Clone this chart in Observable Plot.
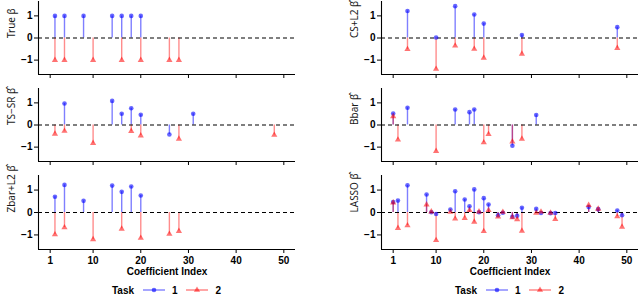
<!DOCTYPE html>
<html><head><meta charset="utf-8">
<script src="https://cdn.jsdelivr.net/npm/d3@7"></script>
<script src="https://cdn.jsdelivr.net/npm/@observablehq/plot@0.6"></script>
<style>
body{margin:0;background:#fff;font-family:"Liberation Sans",Arial,sans-serif;}
#chart{position:relative;width:640px;height:295px;overflow:hidden;background:#fff}
.panel{position:absolute}
</style></head><body><div id="chart"></div>
<script>
// ---- data ----
const taskLabels = ["1", "2"];
const xTicks = [1, 10, 20, 30, 40, 50];
const xTickLabels = ["1", "10", "20", "30", "40", "50"];
const yTicks = [-1, 0, 1];
const yTickLabels = ["\u22121", "0", "1"];
const xTitle = "Coefficient Index";
const legendTitle = "Task";

const trueIdx1 = [2, 4, 8, 14, 16, 18, 20];
const trueVal1 = [1, 1, 1, 1, 1, 1, 1];
const trueIdx2 = [2, 4, 10, 16, 20, 26, 28];
const trueVal2 = [-1, -1, -1, -1, -1, -1, -1];

const tsIdx1 = [4, 14, 16, 18, 20, 26, 31];
const tsVal1 = [0.97, 1.09, 0.51, 0.76, 0.46, -0.43, 0.51];
const tsIdx2 = [2, 4, 10, 18, 20, 28, 48];
const tsVal2 = [-0.40, -0.27, -0.82, -0.28, -0.48, -0.63, -0.45];

const zbIdx1 = [2, 4, 8, 14, 16, 18, 20];
const zbVal1 = [0.70, 1.23, 0.52, 1.20, 0.92, 1.16, 0.76];
const zbIdx2 = [2, 4, 10, 16, 20, 26, 28];
const zbVal2 = [-0.98, -0.67, -1.20, -0.73, -1.14, -0.96, -0.83];

const csIdx1 = [4, 10, 14, 18, 20, 28, 48];
const csVal1 = [1.22, 0.02, 1.44, 1.06, 0.65, 0.13, 0.49];
const csIdx2 = [4, 10, 14, 18, 20, 28, 48];
const csVal2 = [-0.51, -1.40, -0.35, -0.50, -0.90, -0.72, -0.46];

const bbIdx1 = [1, 4, 14, 17, 18, 26, 31];
const bbVal1 = [0.52, 0.78, 0.70, 0.58, 0.70, -0.94, 0.45];
const bbIdx2 = [1, 2, 10, 20, 21, 26, 28];
const bbVal2 = [0.39, -0.67, -1.18, -0.79, -0.42, -0.76, -0.63];

const laIdx1 = [1, 2, 4, 8, 9, 10, 13, 14, 16, 17, 18, 19, 20, 21, 23, 24, 26, 27, 28, 31, 32, 34, 35, 42, 44, 48, 49];
const laVal1 = [0.47, 0.53, 1.21, 0.80, 0.01, -0.07, 0.13, 0.95, 0.58, 0.28, 1.03, 0.01, 0.64, 0.36, -0.12, -0.01, -0.19, -0.15, 0.21, 0.16, -0.02, -0.03, -0.02, 0.24, 0.15, 0.09, -0.12];
const laIdx2 = [1, 2, 4, 8, 9, 10, 13, 14, 16, 17, 18, 19, 20, 21, 23, 24, 26, 27, 28, 31, 32, 34, 35, 42, 44, 48, 49];
const laVal2 = [0.44, -0.70, -0.58, 0.35, 0.04, -1.24, 0.02, -0.28, -0.25, 0.10, -0.42, 0.04, -0.84, 0.10, -0.19, 0.02, -0.22, -0.31, -0.82, -0.02, 0.03, -0.02, -0.30, 0.33, 0.16, -0.18, -0.64];

const leftTitles = ["True \u03b2", "TS\u2212SR \u03b2\u0302", "Zbar+L2 \u03b2\u0302"];
const rightTitles = ["CS+L2 \u03b2\u0302", "Bbar \u03b2\u0302", "LASSO \u03b2\u0302"];

// ---- layout ----
const FONT = "'Liberation Sans', Arial, Helvetica, sans-serif";
const TITLE_FONT = "'Noto Sans', 'DejaVu Sans', sans-serif";
const xDomain = [-1.45, 52.45];
const yDomain = [-1.65, 1.65];
const colLeft = [0, 343];
const rowTop = [0, 87, 174];
const rowPlotH = [73, 73, 74];
const BLUE = "blue", RED = "red";

const zip = (idx, val) => idx.map((i, k) => ({i, v: val[k]}));

const columns = [
  [[trueIdx1, trueVal1, trueIdx2, trueVal2], [tsIdx1, tsVal1, tsIdx2, tsVal2], [zbIdx1, zbVal1, zbIdx2, zbVal2]],
  [[csIdx1, csVal1, csIdx2, csVal2], [bbIdx1, bbVal1, bbIdx2, bbVal2], [laIdx1, laVal1, laIdx2, laVal2]]
];
const titles = [leftTitles, rightTitles];
const chart = document.getElementById("chart");

columns.forEach((col, c) => {
  col.forEach((arrs, r) => {
    const d1 = zip(arrs[0], arrs[1]);
    const d2 = zip(arrs[2], arrs[3]);
    const bottom = r === 2;
    const mb = bottom ? 30 : 13;
    const p = Plot.plot({
      width: 297,
      height: 1 + rowPlotH[r] + mb,
      marginLeft: 38, marginRight: 2, marginTop: 1, marginBottom: mb,
      x: {domain: xDomain},
      y: {domain: yDomain},
      style: {fontFamily: FONT, fontSize: "10px", color: "#000", background: "transparent", overflow: "visible"},
      marks: [
        Plot.ruleX(d1, {x: "i", y1: 0, y2: "v", stroke: BLUE, strokeOpacity: 0.5, strokeWidth: 1.4}),
        Plot.ruleX(d2, {x: "i", y1: 0, y2: "v", stroke: RED, strokeOpacity: 0.45, strokeWidth: 1.4}),
        Plot.ruleY([0], {stroke: "#000", strokeDasharray: "4,3", strokeWidth: 1.2}),
        Plot.dot(d1, {x: "i", y: "v", r: 2.3, symbol: "circle", fill: BLUE, fillOpacity: 0.6, stroke: "none"}),
        Plot.dot(d2, {x: "i", y: "v", r: 2.3, symbol: "triangle", fill: RED, fillOpacity: 0.55, stroke: "none"}),
        Plot.ruleX([xDomain[0]], {stroke: "#000", strokeWidth: 1.1}),
        Plot.ruleY([yDomain[0]], {stroke: "#000", strokeWidth: 1.1}),
        Plot.axisY({ticks: yTicks, tickSize: 4, tickPadding: 2, label: null, fontWeight: "bold", fontSize: 10,
          tickFormat: (d) => yTickLabels[yTicks.indexOf(d)]}),
        Plot.axisX({ticks: xTicks, tickSize: 4, tickPadding: 3, label: null, fontWeight: "bold", fontSize: 10,
          tickFormat: bottom ? (d) => xTickLabels[xTicks.indexOf(d)] : () => ""}),
        Plot.text([titles[c][r]], {frameAnchor: "left", rotate: -90, dx: -27, fontSize: 10, fill: "#1a1a1a", fontFamily: TITLE_FONT}),
        ...(bottom ? [Plot.text([xTitle], {frameAnchor: "bottom", lineAnchor: "middle", dy: 22, fontWeight: "bold", fontSize: 10})] : [])
      ]
    });
    p.classList.add("panel");
    p.style.left = colLeft[c] + "px";
    p.style.top = rowTop[r] + "px";
    chart.appendChild(p);
  });

  // legend
  const svg = d3.create("svg").attr("width", 297).attr("height", 16)
    .attr("class", "panel").style("left", colLeft[c] + "px").style("top", "282px")
    .style("font-family", FONT).style("font-size", "10px");
  const cy = 8;
  svg.append("text").attr("x", 112).attr("y", cy).attr("dy", "0.35em").attr("font-weight", "bold").text(legendTitle);
  const keys = [{x0: 143, x1: 165, color: BLUE, sym: d3.symbolCircle, tx: 172, label: taskLabels[0], op: 0.6},
                {x0: 186, x1: 208, color: RED, sym: d3.symbolTriangle, tx: 215.5, label: taskLabels[1], op: 0.55}];
  keys.forEach(k => {
    svg.append("line").attr("x1", k.x0).attr("x2", k.x1).attr("y1", cy).attr("y2", cy)
      .attr("stroke", k.color).attr("stroke-opacity", 0.5).attr("stroke-width", 1.4);
    svg.append("path").attr("d", d3.symbol(k.sym, Math.PI * 2.3 * 2.3)())
      .attr("transform", `translate(${(k.x0 + k.x1) / 2},${cy})`).attr("fill", k.color).attr("fill-opacity", k.op);
    svg.append("text").attr("x", k.tx).attr("y", cy).attr("dy", "0.35em").attr("font-weight", "bold").text(k.label);
  });
  chart.appendChild(svg.node());
});
</script>
</body></html>
